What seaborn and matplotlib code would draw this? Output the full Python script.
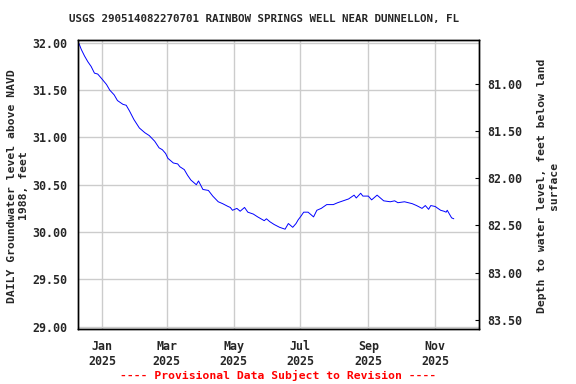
import numpy as np
import pandas as pd
import matplotlib
matplotlib.use("Agg")
import matplotlib.pyplot as plt
import matplotlib.dates as mdates
import seaborn as sns

# daily groundwater level, feet above NAVD 1988
dates = [
    "2024-12-10", "2024-12-11", "2024-12-13", "2024-12-16", "2024-12-19", "2024-12-22",
    "2024-12-25", "2024-12-28", "2024-12-31", "2025-01-05", "2025-01-08", "2025-01-12",
    "2025-01-15", "2025-01-20", "2025-01-23", "2025-01-26", "2025-01-30", "2025-02-04",
    "2025-02-09", "2025-02-13", "2025-02-18", "2025-02-22", "2025-02-25", "2025-02-28",
    "2025-03-02", "2025-03-07", "2025-03-11", "2025-03-13", "2025-03-17", "2025-03-20",
    "2025-03-23", "2025-03-28", "2025-03-30", "2025-04-03", "2025-04-08", "2025-04-12",
    "2025-04-17", "2025-04-21", "2025-04-26", "2025-04-28", "2025-04-30", "2025-05-04",
    "2025-05-07", "2025-05-11", "2025-05-14", "2025-05-19", "2025-05-23", "2025-05-29",
    "2025-05-31", "2025-06-03", "2025-06-07", "2025-06-12", "2025-06-17", "2025-06-20",
    "2025-06-24", "2025-06-27", "2025-06-29", "2025-07-01", "2025-07-04", "2025-07-08",
    "2025-07-13", "2025-07-16", "2025-07-20", "2025-07-25", "2025-07-31", "2025-08-04",
    "2025-08-09", "2025-08-14", "2025-08-19", "2025-08-21", "2025-08-25", "2025-08-27",
    "2025-09-01", "2025-09-04", "2025-09-09", "2025-09-15", "2025-09-21", "2025-09-25",
    "2025-09-28", "2025-10-04", "2025-10-11", "2025-10-15", "2025-10-20", "2025-10-23",
    "2025-10-26", "2025-10-28", "2025-11-01", "2025-11-06", "2025-11-09", "2025-11-11",
    "2025-11-12", "2025-11-16", "2025-11-18",
]
levels = [
    32.00, 31.99, 31.93, 31.86, 31.80, 31.75,
    31.68, 31.67, 31.63, 31.56, 31.50, 31.45,
    31.39, 31.35, 31.34, 31.28, 31.19, 31.10,
    31.05, 31.02, 30.96, 30.89, 30.87, 30.83,
    30.78, 30.73, 30.72, 30.69, 30.66, 30.60,
    30.55, 30.50, 30.54, 30.45, 30.44, 30.38,
    30.32, 30.30, 30.27, 30.26, 30.23, 30.25,
    30.22, 30.26, 30.21, 30.19, 30.16, 30.12,
    30.14, 30.11, 30.08, 30.05, 30.03, 30.09,
    30.05, 30.09, 30.13, 30.16, 30.21, 30.21,
    30.16, 30.23, 30.25, 30.29, 30.29, 30.31,
    30.33, 30.35, 30.39, 30.36, 30.41, 30.38,
    30.38, 30.34, 30.39, 30.33, 30.32, 30.33,
    30.31, 30.32, 30.30, 30.28, 30.25, 30.28,
    30.24, 30.28, 30.27, 30.23, 30.22, 30.21,
    30.23, 30.15, 30.14,
]

land_surface = 112.57  # depth = land surface - level
left_ticks = [29.0, 29.5, 30.0, 30.5, 31.0, 31.5, 32.0]
right_ticks = [81.0, 81.5, 82.0, 82.5, 83.0, 83.5]
title = "USGS 290514082270701 RAINBOW SPRINGS WELL NEAR DUNNELLON, FL"
left_label = "DAILY Groundwater level above NAVD\n1988, feet"
right_label = "Depth to water level, feet below land\nsurface"

df = pd.DataFrame({"date": pd.to_datetime(dates), "level": levels})

sns.set_style("white")
plt.rcParams["font.family"] = ["DejaVu Sans Mono"]
plt.rcParams["font.weight"] = "bold"
fs = 7.8      # title
fs_tick = 8.4
fs_lab = 8.2

fig = plt.figure(figsize=(5.76, 3.84), dpi=100)
ax = fig.add_axes([78 / 576, 1 - 329 / 384, 401 / 576, 289 / 384])

sns.lineplot(data=df, x="date", y="level", ax=ax, color="#0000ff", linewidth=0.7)

ylo, yhi = 28.975, 32.03
ax.set_ylim(ylo, yhi)
ax.set_xlim(pd.Timestamp("2024-12-10"), pd.Timestamp("2025-12-11"))
ax.set_yticks(left_ticks)
ax.set_yticklabels([f"{v:.2f}" for v in left_ticks], fontsize=fs_tick, fontweight="bold")
ax.xaxis.set_major_locator(mdates.MonthLocator(bymonth=[1, 3, 5, 7, 9, 11]))
ax.xaxis.set_major_formatter(mdates.DateFormatter("%b\n%Y"))
for lab in ax.get_xticklabels():
    lab.set_fontsize(fs_tick)
    lab.set_fontweight("bold")
ax.tick_params(axis="both", length=0, pad=8)
ax.grid(True, color="#cccccc", linewidth=1)
ax.set_xlabel("")
ax.set_ylabel("")
for s in ax.spines.values():
    s.set_color("black")
    s.set_linewidth(1.0)

ax2 = ax.twinx()
ax2.set_ylim(land_surface - ylo, land_surface - yhi)
ax2.set_yticks(right_ticks)
ax2.set_yticklabels([f"{v:.2f}" for v in right_ticks], fontsize=fs_tick, fontweight="bold")
ax2.tick_params(axis="y", direction="in", length=3, pad=6, color="black")
for s in ax2.spines.values():
    s.set_color("black")
    s.set_linewidth(1.0)

# axis titles placed by hand so they sit where the reference has them
fig.text(18 / 576, 1 - 186 / 384, left_label, rotation=90, ha="center", va="center",
         multialignment="center", fontsize=fs_lab, fontweight="bold")
fig.text(548 / 576, 1 - 186 / 384, right_label, rotation=90, ha="center", va="center",
         multialignment="center", fontsize=fs_lab, fontweight="bold")

fig.text(264 / 576, 1 - 19 / 384, title, ha="center", va="center",
         fontsize=fs, fontweight="bold")
fig.text(278 / 576, 1 - 375 / 384, "---- Provisional Data Subject to Revision ----",
         ha="center", va="center", fontsize=fs_lab, fontweight="bold", color="red")

fig.savefig("out.png", dpi=100, facecolor="white")
